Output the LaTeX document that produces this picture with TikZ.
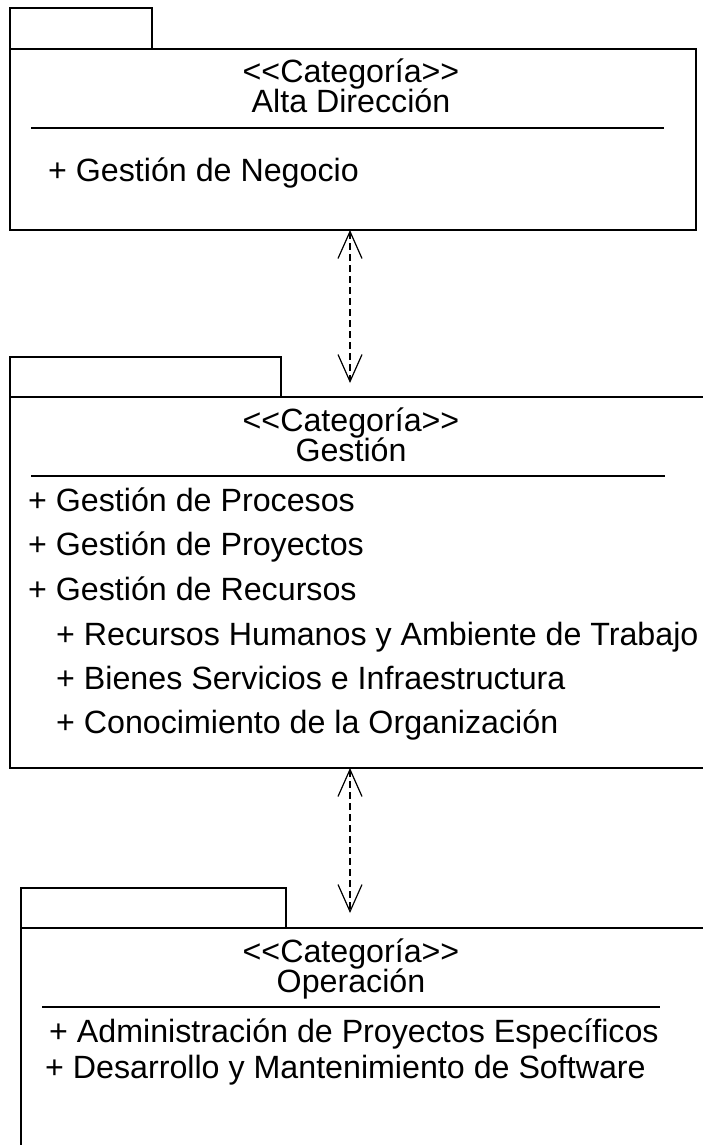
\documentclass[tikz,border=0pt]{standalone}
\usepackage{fontspec}
\setmainfont{Liberation Sans}[Ligatures=TeXOff]
\usetikzlibrary{arrows.meta}
\begin{document}
\begin{tikzpicture}[x=1pt,y=-1pt,
  box/.style={line width=1.7pt},
  sepline/.style={line width=1.2pt},
  txt/.style={inner sep=0pt, font=\fontsize{32.2}{36}\selectfont},
  head/.style={txt, anchor=base},
  item/.style={txt, anchor=base west},
  barb/.tip={Straight Barb[length=27pt,width=24pt,line width=1.2pt]},
  dep/.style={line width=1.2pt, dash pattern=on 7pt off 4pt, barb-barb}]
\useasboundingbox (0,0) rectangle (702,1145);

% ---------- Alta Direccion ----------
\draw[box] (10,8) rectangle (152,49);
\draw[box] (10,49) rectangle (696,230);
\draw[sepline] (31,128) -- (664,128);
\node[head] (s1) at (351,83) {<<Categoría>>};
\node[head] (n1) at (351,113) {Alta Dirección};
\node[item] (i11) at (48,181) {+ Gestión de Negocio};

% ---------- Gestion ----------
\draw[box] (10,357) rectangle (281,397);
\draw[box] (706,397) -- (10,397) -- (10,768) -- (706,768);
\draw[sepline] (31,476) -- (665,476);
\node[head] (s2) at (351,431) {<<Categoría>>};
\node[head] (n2) at (351,461) {Gestión};
\node[item] (i21) at (28,511) {+ Gestión de Procesos};
\node[item] (i22) at (28,555) {+ Gestión de Proyectos};
\node[item] (i23) at (28,600) {+ Gestión de Recursos};
\node[item] (i24) at (56,645) {+ Recursos Humanos y Ambiente de Trabajo};
\node[item] (i25) at (56,689) {+ Bienes Servicios e Infraestructura};
\node[item] (i26) at (56,733) {+ Conocimiento de la Organización};

% ---------- Operacion ----------
\draw[box] (21,888) rectangle (286,928);
\draw[box] (706,928) -- (21,928) -- (21,1150);
\draw[sepline] (42,1007) -- (660,1007);
\node[head] (s3) at (351,962) {<<Categoría>>};
\node[head] (n3) at (351,992) {Operación};
\node[item] (i31) at (49,1042) {+ Administración de Proyectos Específicos};
\node[item] (i32) at (45,1078) {+ Desarrollo y Mantenimiento de Software};

% ---------- dependencies ----------
\coordinate (d1a) at (350,230);
\coordinate (d1b) at (350,383);
\coordinate (d2a) at (350,768);
\coordinate (d2b) at (350,913);
\draw[dep] (d1a) -- (d1b);
\draw[dep] (d2a) -- (d2b);
\end{tikzpicture}
\end{document}
